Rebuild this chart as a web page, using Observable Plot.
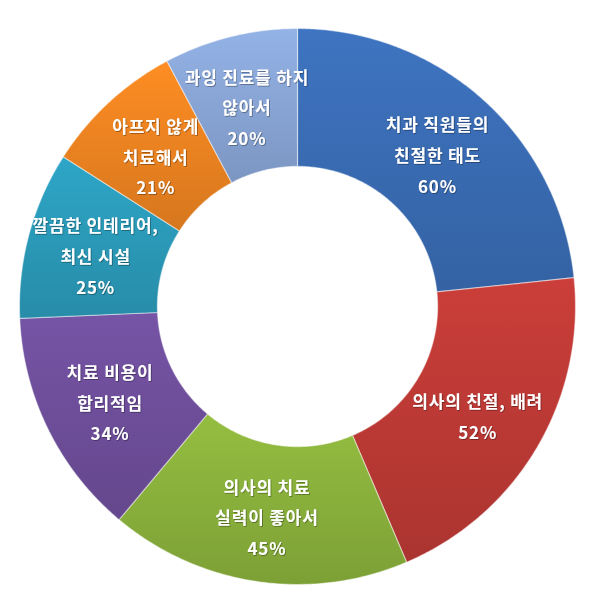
<!DOCTYPE html>
<html>
<head>
<meta charset="utf-8">
<script src="https://cdn.jsdelivr.net/npm/d3@7"></script>
<script src="https://cdn.jsdelivr.net/npm/@observablehq/plot@0.6"></script>
<style>
  html, body { margin: 0; padding: 0; background: #ffffff; overflow: hidden; }
  #chart svg { display: block; }
  #chart text { letter-spacing: 0.8px; }
</style>
</head>
<body>
<div id="chart"></div>
<script>
// ---- data ----
const categories = [
  "치과 직원들의\n친절한 태도",
  "의사의 친절, 배려",
  "의사의 치료\n실력이 좋아서",
  "치료 비용이\n합리적임",
  "깔끔한 인테리어,\n최신 시설",
  "아프지 않게\n치료해서",
  "과잉 진료를 하지\n않아서"
];
const values = [60, 52, 45, 34, 25, 21, 20];
const colors = ["#3a6db5", "#be3a35", "#8bb23c", "#6f4f9c", "#2b9cbb", "#ee8421", "#8aa7d8"];

// ---- geometry from data (unit circle, clockwise from 12 o'clock) ----
const holeRatio = 0.504;
const total = d3.sum(values);
const cum = d3.cumsum(values);
const slices = values.map((v, i) => {
  const a0 = ((cum[i] - v) / total) * 2 * Math.PI;
  const a1 = (cum[i] / total) * 2 * Math.PI;
  const n = Math.max(8, Math.ceil((a1 - a0) / (Math.PI / 360)));
  const pts = [];
  for (let k = 0; k <= n; k++) {
    const a = a0 + (a1 - a0) * k / n;
    pts.push({ x: Math.sin(a), y: Math.cos(a) });
  }
  for (let k = n; k >= 0; k--) {
    const a = a0 + (a1 - a0) * k / n;
    pts.push({ x: holeRatio * Math.sin(a), y: holeRatio * Math.cos(a) });
  }
  const am = (a0 + a1) / 2, rm = (1 + holeRatio) / 2;
  return { i, pts, label: { x: rm * Math.sin(am), y: rm * Math.cos(am), text: categories[i] + "\n" + values[i] + "%" } };
});

// gradient defs + text shadow filter (rendered as a function mark)
const defsMark = () => {
  const d = d3.create("svg:defs");
  colors.forEach((c, i) => {
    const g = d.append("linearGradient").attr("id", "grad" + i)
      .attr("x1", 0).attr("y1", 0).attr("x2", 0).attr("y2", 1);
    g.append("stop").attr("offset", "0%").attr("stop-color", d3.color(c).brighter(0.18).formatHex());
    g.append("stop").attr("offset", "100%").attr("stop-color", d3.color(c).darker(0.3).formatHex());
  });
  const f = d.append("filter").attr("id", "tshadow").attr("x", "-10%").attr("y", "-10%").attr("width", "120%").attr("height", "120%");
  f.append("feDropShadow").attr("dx", 0.8).attr("dy", 0.8).attr("stdDeviation", 0.6)
    .attr("flood-color", "#000").attr("flood-opacity", 0.4);
  return d.node();
};

const marks = [defsMark];
slices.forEach(s => {
  marks.push(Plot.line(s.pts, {
    x: "x", y: "y", curve: "linear-closed",
    fill: `url(#grad${s.i})`,
    stroke: "#ffffff", strokeOpacity: 0.45, strokeWidth: 1.2
  }));
});
marks.push(Plot.text(slices.map(s => s.label), {
  x: "x", y: "y", text: "text",
  fill: "white", fontSize: 17, fontWeight: "bold", lineHeight: 1.8, dy: 1,
  fontFamily: "'Noto Sans CJK KR', 'Noto Sans', sans-serif",
  className: "slice-label"
}));

const chart = Plot.plot({
  width: 600,
  height: 613,
  margin: 0,
  x: { domain: [-1, 1], range: [19, 575], axis: null },
  y: { domain: [-1, 1], range: [584, 28], axis: null },
  style: { background: "#ffffff" },
  marks
});
chart.querySelectorAll("text").forEach(t => t.setAttribute("filter", "url(#tshadow)"));
document.getElementById("chart").appendChild(chart);
</script>
</body>
</html>
